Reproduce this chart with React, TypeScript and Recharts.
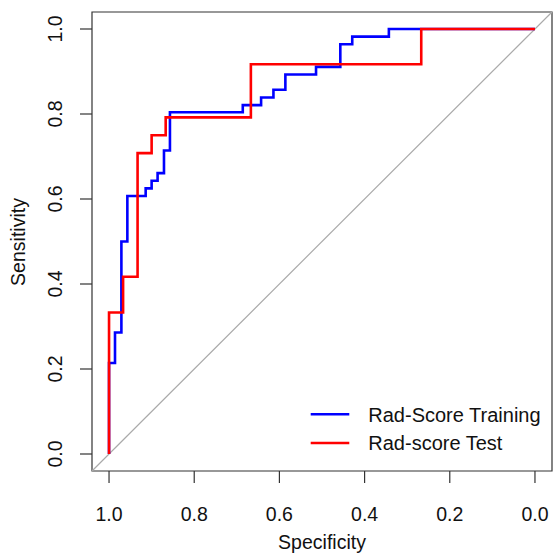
import { LineChart, Line, XAxis, YAxis, ReferenceLine, ReferenceArea, Legend } from 'recharts';

// ROC points (specificity, sensitivity)
const trainSpec = [1, 1, 0.986, 0.986, 0.971, 0.971, 0.957, 0.957, 0.914, 0.914, 0.9, 0.9, 0.886, 0.886, 0.871, 0.871, 0.857, 0.857, 0.686, 0.686, 0.643, 0.643, 0.614, 0.614, 0.586, 0.586, 0.514, 0.514, 0.457, 0.457, 0.429, 0.429, 0.343, 0.343, 0];
const trainSens = [0, 0.214, 0.214, 0.286, 0.286, 0.5, 0.5, 0.607, 0.607, 0.625, 0.625, 0.643, 0.643, 0.661, 0.661, 0.714, 0.714, 0.804, 0.804, 0.821, 0.821, 0.839, 0.839, 0.857, 0.857, 0.893, 0.893, 0.911, 0.911, 0.964, 0.964, 0.982, 0.982, 1, 1];

const testSpec = [1, 1, 0.967, 0.967, 0.933, 0.933, 0.9, 0.9, 0.867, 0.867, 0.667, 0.667, 0.267, 0.267, 0];
const testSens = [0, 0.333, 0.333, 0.417, 0.417, 0.708, 0.708, 0.75, 0.75, 0.792, 0.792, 0.917, 0.917, 1, 1];

const ticks = [1, 0.8, 0.6, 0.4, 0.2, 0];
const seriesNames = ['Rad-Score Training', 'Rad-score Test'];

const FONT = '"Liberation Sans", Arial, Helvetica, sans-serif';

const trainData = trainSpec.map((s, i) => ({ spec: s, sens: trainSens[i] }));
const testData = testSpec.map((s, i) => ({ spec: s, sens: testSens[i] }));

const XTick = ({ x, payload }: any) => (
    <text x={x} y={521} textAnchor="middle" fontSize={19.5} fontFamily={FONT} fill="#111">
        {Number(payload.value).toFixed(1)}
    </text>
);

const YTick = ({ y, payload }: any) => (
    <text x={61.5} y={y} transform={`rotate(-90 61.5 ${y})`} textAnchor="middle" fontSize={19.5} fontFamily={FONT} fill="#111">
        {Number(payload.value).toFixed(1)}
    </text>
);

const LegendBox = () => (
    <svg width={250} height={70} style={{ display: 'block' }}>
        <line x1={10.7} x2={49.3} y1={19.3} y2={19.3} stroke="#0000ff" strokeWidth={2.6} />
        <line x1={10.7} x2={49.3} y1={48} y2={48} stroke="#ff0000" strokeWidth={2.6} />
        <text x={68.3} y={26.7} fontSize={20} fontFamily={FONT} fill="#111">{seriesNames[0]}</text>
        <text x={68.3} y={55} fontSize={20} fontFamily={FONT} fill="#111">{seriesNames[1]}</text>
    </svg>
);

export default function App() {
    return (
        <div style={{ position: 'absolute', left: 0, top: 0, width: 553, height: 554, background: '#fff' }}>
            <LineChart width={553} height={554} margin={{ top: 12, right: 1, bottom: 0, left: 0 }}>
                <XAxis
                    type="number"
                    dataKey="spec"
                    domain={[-0.04, 1.04]}
                    reversed
                    ticks={ticks}
                    interval={0}
                    height={83}
                    tickSize={12}
                    axisLine={false}
                    tickLine={{ stroke: '#333', strokeWidth: 1.2 }}
                    tick={<XTick />}
                    allowDataOverflow
                    label={() => (
                        <text x={322} y={549} textAnchor="middle" fontSize={19.5} fontFamily={FONT} fill="#111">
                            Specificity
                        </text>
                    )}
                />
                <YAxis
                    type="number"
                    dataKey="sens"
                    domain={[-0.04, 1.04]}
                    ticks={ticks}
                    interval={0}
                    width={92}
                    tickSize={12}
                    axisLine={false}
                    tickLine={{ stroke: '#333', strokeWidth: 1.2 }}
                    tick={<YTick />}
                    allowDataOverflow
                    label={() => (
                        <text x={25} y={242} transform="rotate(-90 25 242)" textAnchor="middle" fontSize={19.5} fontFamily={FONT} fill="#111">
                            Sensitivity
                        </text>
                    )}
                />
                <ReferenceLine
                    segment={[{ x: 1.04, y: -0.04 }, { x: -0.04, y: 1.04 }]}
                    stroke="#aaaaaa"
                    strokeWidth={1.2}
                    ifOverflow="visible"
                />
                <Line data={trainData} dataKey="sens" type="linear" stroke="#0000ff" strokeWidth={2.6} dot={false} isAnimationActive={false} name={seriesNames[0]} />
                <Line data={testData} dataKey="sens" type="linear" stroke="#ff0000" strokeWidth={2.6} dot={false} isAnimationActive={false} name={seriesNames[1]} />
                <ReferenceArea x1={-0.04} x2={1.04} y1={-0.04} y2={1.04} fill="none" stroke="#333" strokeWidth={1.2} ifOverflow="visible" />
                <Legend
                    layout="vertical"
                    align="center"
                    verticalAlign="middle"
                    content={<LegendBox />}
                    wrapperStyle={{ left: 300, top: 395, width: 250, height: 70 }}
                />
            </LineChart>
        </div>
    );
}
